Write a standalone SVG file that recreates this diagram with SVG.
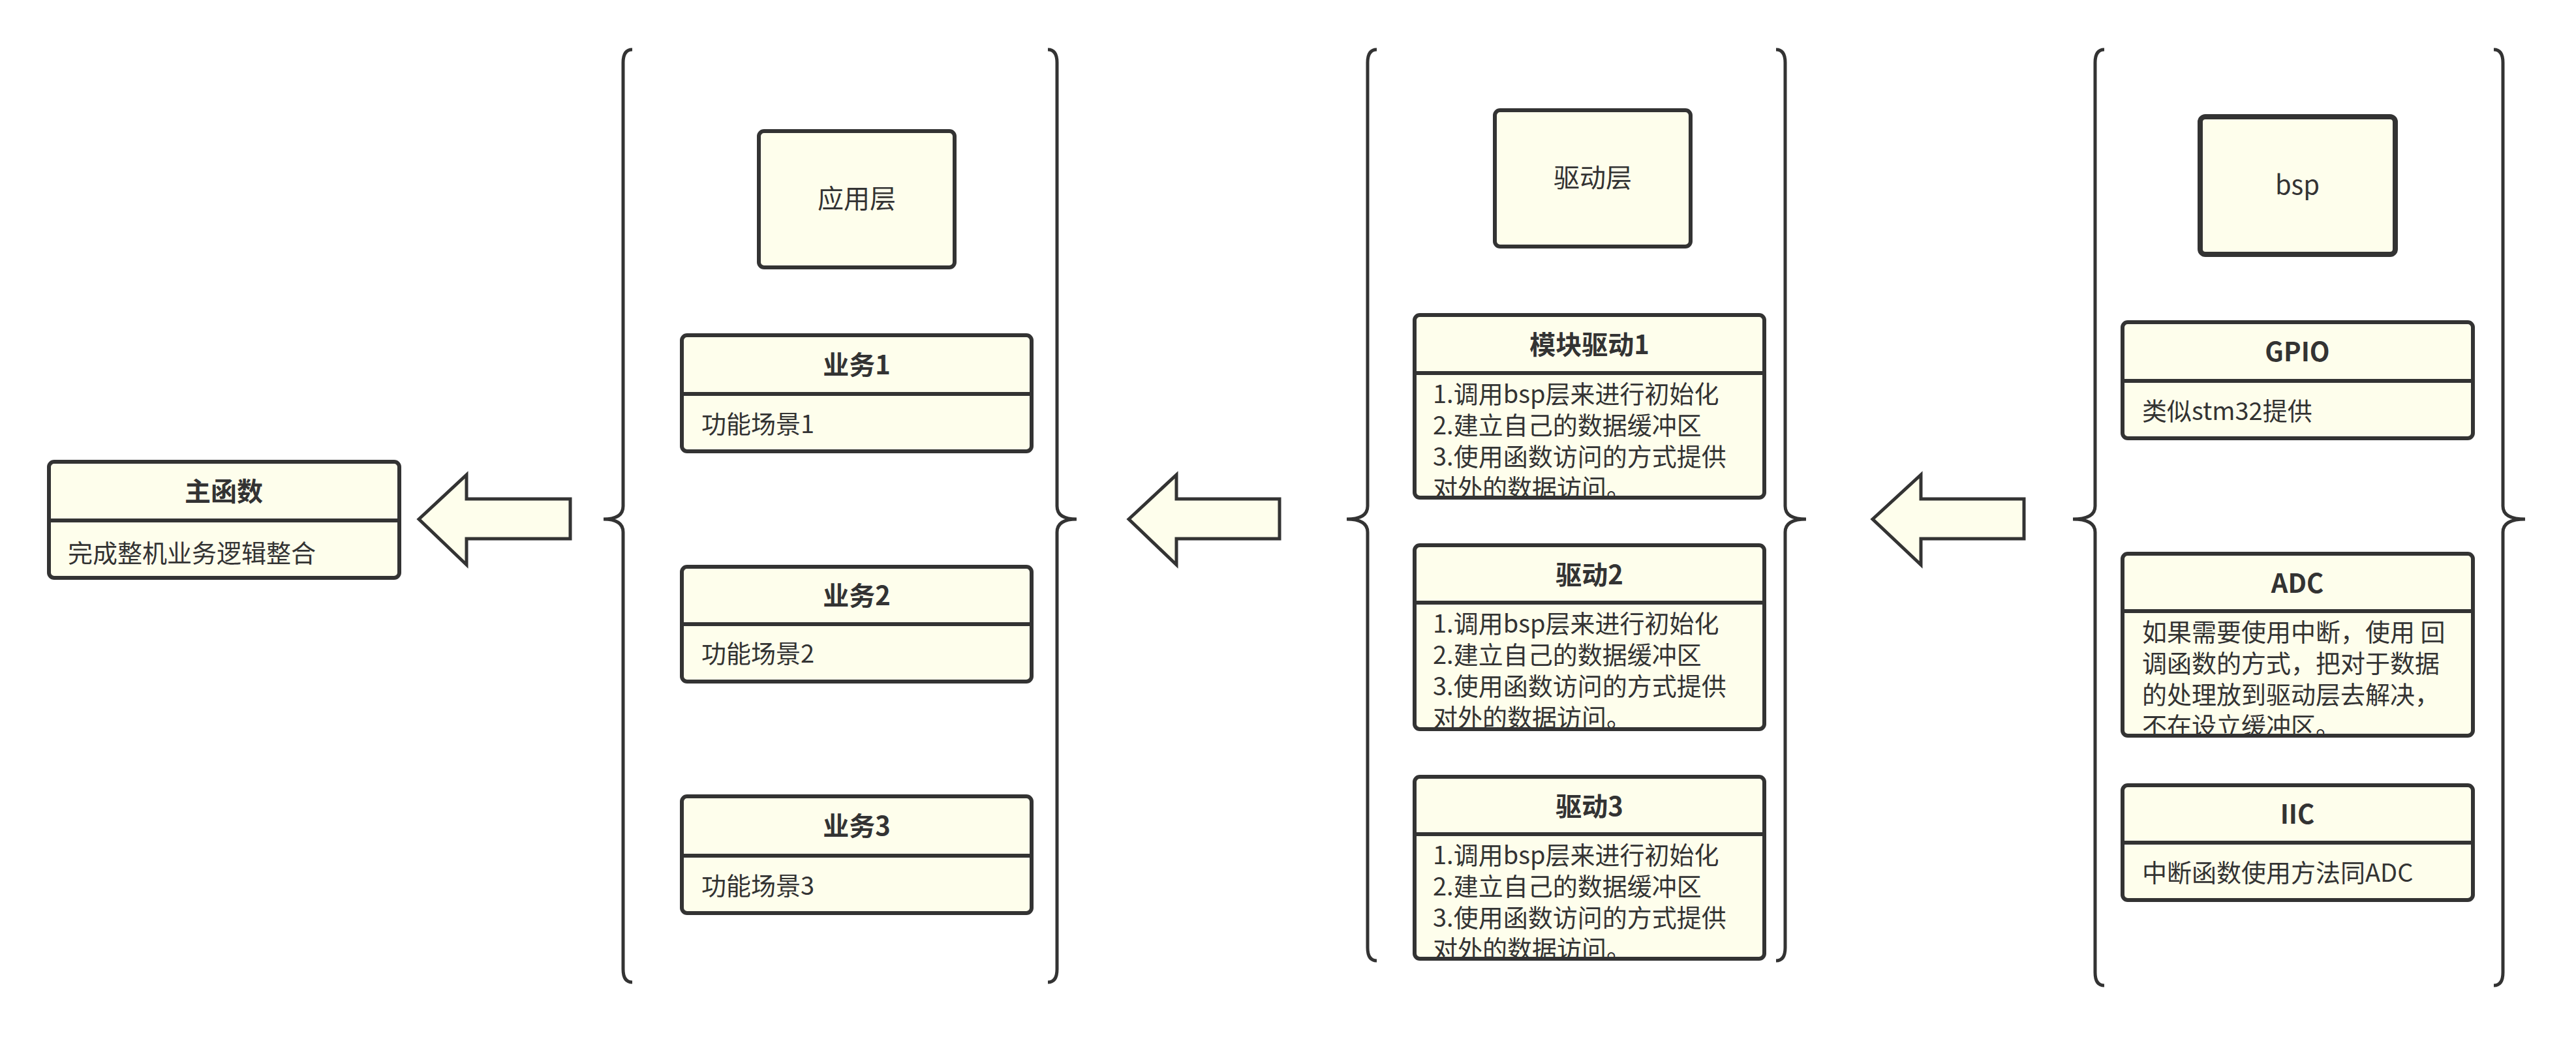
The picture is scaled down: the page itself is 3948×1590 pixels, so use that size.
<svg xmlns="http://www.w3.org/2000/svg" width="3948" height="1590" viewBox="0 0 3948 1590">
<style>
.b{fill:#fefeec;stroke:#333;stroke-width:6}
.d{stroke:#333;stroke-width:6}
.br{fill:none;stroke:#333;stroke-width:5}
.ar{fill:#fefeec;stroke:#333;stroke-width:5}
.h{font-family:"Noto Sans CJK SC",sans-serif;font-weight:bold;font-size:40px;fill:#333;text-anchor:middle}
.t{font-family:"Noto Sans CJK SC",sans-serif;font-size:38px;fill:#333}
.c{font-family:"Noto Sans CJK SC",sans-serif;font-size:40px;fill:#333;text-anchor:middle}
</style>
<defs>
<clipPath id="c1"><rect x="2168" y="572" width="536" height="188"/></clipPath>
<clipPath id="c2"><rect x="2168" y="924" width="536" height="191"/></clipPath>
<clipPath id="c3"><rect x="2168" y="1279" width="536" height="188"/></clipPath>
<clipPath id="c4"><rect x="3253" y="937" width="537" height="188"/></clipPath>
</defs>
<rect width="3948" height="1590" fill="#fff"/>
<g id="connectors">
<path class="br" d="M969,76 Q955,76 955,96 L955,776 Q955,796 925,796 Q955,796 955,816 L955,1486 Q955,1506 969,1506"/>
<path class="br" d="M1606,76 Q1620,76 1620,96 L1620,776 Q1620,796 1650,796 Q1620,796 1620,816 L1620,1486 Q1620,1506 1606,1506"/>
<path class="br" d="M2110,76 Q2096,76 2096,96 L2096,776 Q2096,796 2064,796 Q2096,796 2096,816 L2096,1453 Q2096,1473 2110,1473"/>
<path class="br" d="M2722,76 Q2736,76 2736,96 L2736,776 Q2736,796 2768,796 Q2736,796 2736,816 L2736,1453 Q2736,1473 2722,1473"/>
<path class="br" d="M3225,76 Q3211,76 3211,96 L3211,776 Q3211,796 3177,796 Q3211,796 3211,816 L3211,1491 Q3211,1511 3225,1511"/>
<path class="br" d="M3822,76 Q3836,76 3836,96 L3836,776 Q3836,796 3870,796 Q3836,796 3836,816 L3836,1491 Q3836,1511 3822,1511"/>
<path class="ar" d="M642,796 L715,728 L715,765 L874,765 L874,826 L715,826 L715,866 Z"/>
<path class="ar" d="M1730,796 L1803,728 L1803,765 L1961,765 L1961,826 L1803,826 L1803,866 Z"/>
<path class="ar" d="M2870,796 L2944,728 L2944,765 L3102,765 L3102,826 L2944,826 L2944,866 Z"/>
</g>
<g id="main"><rect class="b" x="75" y="708" width="537" height="178" rx="8"/><line class="d" x1="75" y1="798" x2="612" y2="798"/>
<text class="h" x="343" y="768">主函数</text><text class="t" x="104" y="862">完成整机业务逻辑整合</text></g>
<g id="app"><rect class="b" x="1163" y="201" width="300" height="209" rx="8"/><text class="c" x="1313" y="319">应用层</text></g>
<g id="yw1"><rect class="b" x="1045" y="514" width="536" height="178" rx="8"/><line class="d" x1="1045" y1="604" x2="1581" y2="604"/>
<text class="h" x="1313" y="574">业务1</text><text class="t" x="1075" y="664">功能场景1</text></g>
<g id="yw2"><rect class="b" x="1045" y="869" width="536" height="176" rx="8"/><line class="d" x1="1045" y1="957" x2="1581" y2="957"/>
<text class="h" x="1313" y="928">业务2</text><text class="t" x="1075" y="1016">功能场景2</text></g>
<g id="yw3"><rect class="b" x="1045" y="1221" width="536" height="179" rx="8"/><line class="d" x1="1045" y1="1312" x2="1581" y2="1312"/>
<text class="h" x="1313" y="1281">业务3</text><text class="t" x="1075" y="1372">功能场景3</text></g>
<g id="drv"><rect class="b" x="2291" y="169" width="300" height="209" rx="8"/><text class="c" x="2441" y="287">驱动层</text></g>
<g id="d1"><rect class="b" x="2168" y="483" width="536" height="280" rx="8"/><line class="d" x1="2168" y1="572" x2="2704" y2="572"/>
<text class="h" x="2436" y="543">模块驱动1</text>
<g clip-path="url(#c1)"><text class="t" x="2196" y="618">1.调用bsp层来进行初始化</text><text class="t" x="2196" y="666">2.建立自己的数据缓冲区</text><text class="t" x="2196" y="714">3.使用函数访问的方式提供</text><text class="t" x="2196" y="762">对外的数据访问。</text></g></g>
<g id="d2"><rect class="b" x="2168" y="836" width="536" height="282" rx="8"/><line class="d" x1="2168" y1="924" x2="2704" y2="924"/>
<text class="h" x="2436" y="896">驱动2</text>
<g clip-path="url(#c2)"><text class="t" x="2196" y="970">1.调用bsp层来进行初始化</text><text class="t" x="2196" y="1018">2.建立自己的数据缓冲区</text><text class="t" x="2196" y="1066">3.使用函数访问的方式提供</text><text class="t" x="2196" y="1114">对外的数据访问。</text></g></g>
<g id="d3"><rect class="b" x="2168" y="1191" width="536" height="279" rx="8"/><line class="d" x1="2168" y1="1279" x2="2704" y2="1279"/>
<text class="h" x="2436" y="1251">驱动3</text>
<g clip-path="url(#c3)"><text class="t" x="2196" y="1325">1.调用bsp层来进行初始化</text><text class="t" x="2196" y="1373">2.建立自己的数据缓冲区</text><text class="t" x="2196" y="1421">3.使用函数访问的方式提供</text><text class="t" x="2196" y="1469">对外的数据访问。</text></g></g>
<g id="bsp"><rect class="b" x="3372" y="179" width="299" height="211" rx="8" style="stroke-width:8"/><text class="c" x="3521" y="298">bsp</text></g>
<g id="gpio"><rect class="b" x="3253" y="494" width="537" height="178" rx="8"/><line class="d" x1="3253" y1="584" x2="3790" y2="584"/>
<text class="h" x="3521" y="554">GPIO</text><text class="t" x="3283" y="644">类似stm32提供</text></g>
<g id="adc"><rect class="b" x="3253" y="849" width="537" height="279" rx="8"/><line class="d" x1="3253" y1="937" x2="3790" y2="937"/>
<text class="h" x="3521" y="909">ADC</text>
<g clip-path="url(#c4)"><text class="t" x="3283" y="983">如果需要使用中断，使用 回</text><text class="t" x="3283" y="1031">调函数的方式，把对于数据</text><text class="t" x="3283" y="1079">的处理放到驱动层去解决，</text><text class="t" x="3283" y="1127">不在设立缓冲区。</text></g></g>
<g id="iic"><rect class="b" x="3253" y="1204" width="537" height="176" rx="8"/><line class="d" x1="3253" y1="1292" x2="3790" y2="1292"/>
<text class="h" x="3521" y="1263">IIC</text><text class="t" x="3283" y="1352">中断函数使用方法同ADC</text></g>
</svg>
